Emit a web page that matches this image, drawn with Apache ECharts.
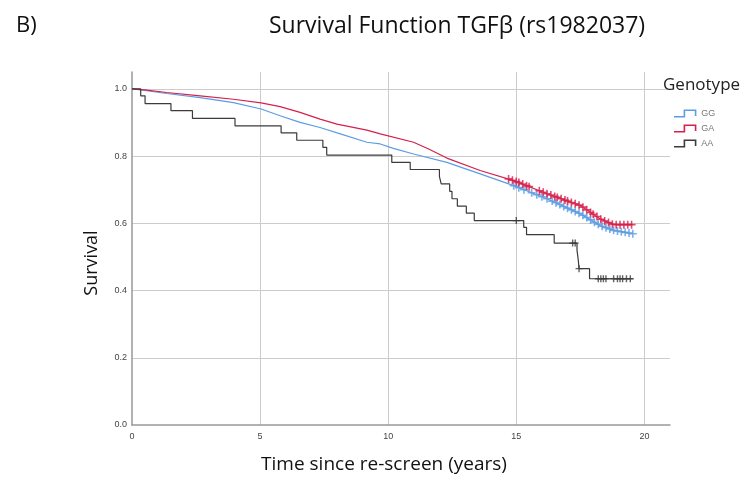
<!DOCTYPE html>
<html>
<head>
<meta charset="utf-8">
<script src="https://cdn.jsdelivr.net/npm/echarts@6/dist/echarts.min.js"></script>
<style>
  html, body { margin: 0; padding: 0; background: #fff; }
  #chart { width: 742px; height: 481px; }
</style>
</head>
<body>
<div id="chart"></div>
<script>
// Kaplan-Meier curves: [years, survival]
const genotypes = ['GG', 'GA', 'AA'];

const ggCurve = [
  [0, 1], [0.5, 0.995], [1.35, 0.986], [2.66, 0.974], [3.96, 0.959], [5.04, 0.94],
  [5.78, 0.92], [6.56, 0.90], [7.34, 0.885], [8.13, 0.866], [9.17, 0.841], [9.69, 0.836],
  [10.2, 0.823], [10.99, 0.806], [12.29, 0.781], [13.59, 0.747], [14.9, 0.712],
  [16.2, 0.673], [17.5, 0.628], [18.28, 0.593], [18.8, 0.579], [19.54, 0.569]
];
const gaCurve = [
  [0, 1], [0.5, 0.997], [1.35, 0.989], [2.66, 0.979], [3.96, 0.969], [5.04, 0.958],
  [5.78, 0.947], [6.56, 0.930], [7.34, 0.910], [8.0, 0.895], [9.17, 0.877], [9.69, 0.866],
  [10.99, 0.841], [11.6, 0.82], [12.29, 0.794], [13.59, 0.757], [14.9, 0.727],
  [16.2, 0.688], [17.5, 0.653], [18.28, 0.613], [18.8, 0.596], [19.54, 0.596]
];
const aaCurve = [
  [0, 1], [0.34, 0.979], [0.51, 0.956], [1.52, 0.935], [2.36, 0.912], [4.02, 0.890],
  [5.82, 0.869], [6.43, 0.847], [7.45, 0.826], [7.6, 0.803], [10.14, 0.781], [10.86, 0.760],
  [12.0, 0.739], [12.07, 0.717], [12.4, 0.695], [12.49, 0.673], [12.7, 0.651],
  [13.05, 0.630], [13.36, 0.608], [15.29, 0.588], [15.4, 0.566], [16.48, 0.541],
  [17.37, 0.52], [17.42, 0.49], [17.45, 0.465], [17.86, 0.435], [19.54, 0.435]
];

// censored observations (+ marks)
const ggCensored = [
  [14.9, 0.712], [15.1, 0.706], [15.3, 0.700], [15.6, 0.691], [15.8, 0.685], [16.0, 0.679],
  [16.2, 0.673], [16.4, 0.666], [16.55, 0.661], [16.7, 0.656], [16.85, 0.650], [17.0, 0.645],
  [17.15, 0.640], [17.3, 0.635], [17.45, 0.630], [17.6, 0.624], [17.75, 0.617], [17.9, 0.610],
  [18.05, 0.603], [18.2, 0.597], [18.35, 0.591], [18.5, 0.587], [18.65, 0.583], [18.8, 0.579],
  [18.95, 0.577], [19.1, 0.575], [19.25, 0.573], [19.4, 0.571], [19.55, 0.569]
];
const gaCensored = [
  [14.7, 0.732], [14.85, 0.728], [15.0, 0.724], [15.1, 0.721], [15.25, 0.717], [15.4, 0.712],
  [15.5, 0.709], [15.9, 0.697], [16.05, 0.692], [16.2, 0.688], [16.35, 0.684], [16.5, 0.680],
  [16.6, 0.677], [16.75, 0.673], [16.9, 0.669], [17.0, 0.666], [17.15, 0.662], [17.3, 0.658],
  [17.45, 0.654], [17.6, 0.648], [17.75, 0.640], [17.9, 0.632], [18.0, 0.627], [18.15, 0.620],
  [18.3, 0.612], [18.45, 0.607], [18.6, 0.602], [18.75, 0.597], [18.9, 0.596], [19.05, 0.596],
  [19.2, 0.596], [19.35, 0.596], [19.5, 0.596]
];
const aaCensored = [
  [15.0, 0.608], [17.2, 0.541], [17.3, 0.541], [17.45, 0.465], [18.2, 0.435], [18.3, 0.435],
  [18.4, 0.435], [18.5, 0.435], [18.8, 0.435], [18.95, 0.435], [19.05, 0.435], [19.15, 0.435],
  [19.3, 0.435], [19.45, 0.435]
];

const colors = ['#5b9de3', '#d5204c', '#3b3b3b'];
const plusIcon = 'path://M4,0H6V4H10V6H6V10H4V6H0V4H4Z';
const stepIcon = 'path://M0,6H9V0H21V6H19.5V1.5H10.5V7.5H0Z';

const chart = echarts.init(document.getElementById('chart'));

const curveSeries = (name, data, color, step) => ({
  name,
  type: 'line',
  data,
  step,
  showSymbol: false,
  symbol: 'none',
  lineStyle: { color, width: 1.2 },
  itemStyle: { color },
  z: 3
});
const censorSeries = (name, data, color, size) => ({
  name: name + ' censored',
  type: 'scatter',
  data,
  symbol: plusIcon,
  symbolSize: size,
  itemStyle: { color },
  z: 4
});

const nameFont = { fontFamily: 'Open Sans', fill: '#111' };

chart.setOption({
  animation: false,
  textStyle: { fontFamily: 'Liberation Sans' },
  title: [
    {
      text: 'Survival Function TGFβ (rs1982037)',
      left: 264, top: 10,
      textStyle: { fontFamily: 'Open Sans', fontSize: 23, fontWeight: 'normal', color: '#111' }
    },
    {
      text: 'B)',
      left: 11, top: 10,
      textStyle: { fontFamily: 'Open Sans', fontSize: 22, fontWeight: 'normal', color: '#111' }
    },
    {
      text: 'Genotype',
      left: 658, top: 72,
      textStyle: { fontFamily: 'Open Sans', fontSize: 17, fontWeight: 'normal', color: '#222' }
    }
  ],
  graphic: [
    {
      type: 'text', x: 384, y: 465,
      style: Object.assign({ text: 'Time since re-screen (years)', fontSize: 19,
        textAlign: 'center', textVerticalAlign: 'middle' }, nameFont)
    },
    {
      type: 'text', x: 92, y: 263, rotation: Math.PI / 2,
      style: Object.assign({ text: 'Survival', fontSize: 18,
        textAlign: 'center', textVerticalAlign: 'middle' }, nameFont)
    }
  ],
  legend: {
    data: genotypes,
    orient: 'vertical',
    left: 669, top: 104,
    itemWidth: 24, itemHeight: 8, itemGap: 6,
    icon: stepIcon,
    textStyle: { fontSize: 9, color: '#777', padding: [0, 0, 0, -1] }
  },
  grid: { left: 132, right: 72, top: 72, bottom: 56 },
  xAxis: {
    type: 'value',
    min: 0, max: 21, interval: 5,
    axisLine: { lineStyle: { color: '#999', width: 1.5 } },
    axisTick: { show: false },
    axisLabel: { fontSize: 9, color: '#444', margin: 7, showMaxLabel: false },
    splitLine: { show: true, showMinLine: false, showMaxLine: false, lineStyle: { color: '#ccc' } }
  },
  yAxis: {
    type: 'value',
    min: 0, max: 1.05, interval: 0.2,
    axisLine: { show: true, lineStyle: { color: '#999', width: 1.5 } },
    axisTick: { show: false },
    axisLabel: { fontSize: 9, color: '#444', margin: 5, showMaxLabel: false,
      formatter: v => v.toFixed(1) },
    splitLine: { show: true, showMinLine: false, showMaxLine: false, lineStyle: { color: '#ccc' } }
  },
  series: [
    curveSeries('GG', ggCurve, colors[0], false),
    curveSeries('GA', gaCurve, colors[1], false),
    curveSeries('AA', aaCurve, colors[2], 'end'),
    censorSeries('GG', ggCensored, colors[0], 8),
    censorSeries('GA', gaCensored, colors[1], 8),
    censorSeries('AA', aaCensored, colors[2], 7)
  ]
});
</script>
</body>
</html>
